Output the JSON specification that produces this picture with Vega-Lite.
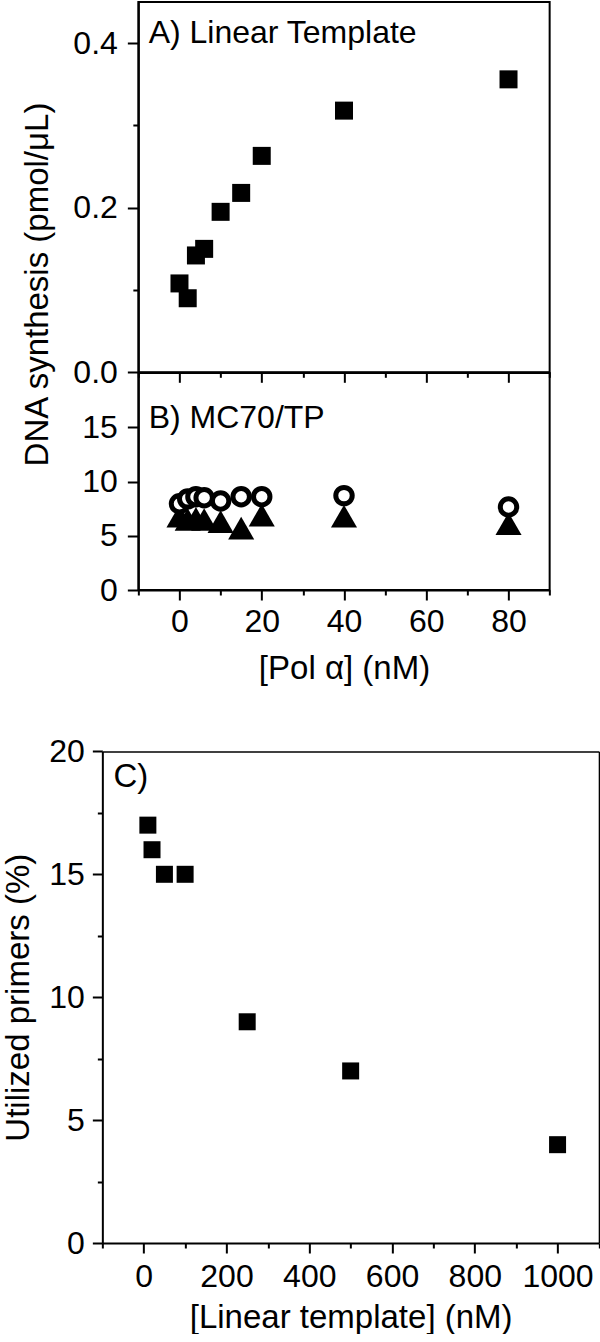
{
  "$schema": "https://vega.github.io/schema/vega-lite/v6.json",
  "padding": {"left": 2, "top": 1, "right": 0, "bottom": 0},
  "background": "white",
  "config": {
    "font": "Liberation Sans",
    "view": {"stroke": "black", "strokeWidth": 2},
    "axis": {"domainColor": "black", "domainWidth": 2, "tickColor": "black", "tickWidth": 2, "labelColor": "black", "titleColor": "black", "labelFont": "Liberation Sans", "titleFont": "Liberation Sans", "labelFontSize": 32, "titleFontSize": 33, "titleFontWeight": "normal", "grid": false, "labelOverlap": false, "labelFlush": false, "labelBound": false},
    "text": {"font": "Liberation Sans", "color": "black"}
  },
  "datasets": {
    "linear": [
      {"pol": 0, "dna": 0.108}, {"pol": 2, "dna": 0.090}, {"pol": 4, "dna": 0.142}, {"pol": 6, "dna": 0.150},
      {"pol": 10, "dna": 0.195}, {"pol": 15, "dna": 0.218}, {"pol": 20, "dna": 0.263}, {"pol": 40, "dna": 0.318}, {"pol": 80, "dna": 0.356}
    ],
    "mc70": [
      {"pol": 0, "series": "filled", "dna": 6.8}, {"pol": 2, "series": "filled", "dna": 6.5}, {"pol": 4, "series": "filled", "dna": 6.6},
      {"pol": 6, "series": "filled", "dna": 6.5}, {"pol": 10, "series": "filled", "dna": 6.3}, {"pol": 15, "series": "filled", "dna": 5.7},
      {"pol": 20, "series": "filled", "dna": 6.9}, {"pol": 40, "series": "filled", "dna": 6.8}, {"pol": 80, "series": "filled", "dna": 6.1},
      {"pol": 0, "series": "open", "dna": 7.95}, {"pol": 2, "series": "open", "dna": 8.4}, {"pol": 4, "series": "open", "dna": 8.6},
      {"pol": 6, "series": "open", "dna": 8.5}, {"pol": 10, "series": "open", "dna": 8.2}, {"pol": 15, "series": "open", "dna": 8.6},
      {"pol": 20, "series": "open", "dna": 8.6}, {"pol": 40, "series": "open", "dna": 8.7}, {"pol": 80, "series": "open", "dna": 7.65}
    ],
    "primers": [
      {"template": 10, "utilized": 17}, {"template": 20, "utilized": 16}, {"template": 50, "utilized": 15}, {"template": 100, "utilized": 15},
      {"template": 250, "utilized": 9}, {"template": 500, "utilized": 7}, {"template": 1000, "utilized": 4}
    ]
  },
  "vconcat": [
    {
      "width": 411.3,
      "height": 370.3,
      "layer": [
        {"data": {"name": "linear"},
         "mark": {"type": "square", "size": 324, "color": "black", "filled": true, "opacity": 1},
         "encoding": {
           "x": {"field": "pol", "type": "quantitative", "scale": {"domain": [-10, 90], "nice": false, "zero": false},
             "axis": {"values": [-10, 0, 10, 20, 30, 40, 50, 60, 70, 80, 90], "labels": false, "title": null,
               "tickSize": {"condition": {"test": "datum.value % 20 === 0", "value": 10}, "value": 5}}},
           "y": {"field": "dna", "type": "quantitative", "scale": {"domain": [0, 0.45], "nice": false, "zero": false},
             "axis": {"values": [0, 0.1, 0.2, 0.3, 0.4],
               "labelExpr": "round(datum.value*10) % 2 === 0 ? format(datum.value, '.1f') : ''",
               "tickSize": {"condition": {"test": "round(datum.value*10) % 2 === 0", "value": 11}, "value": 5.5},
               "labelPadding": 10,
               "title": "DNA synthesis (pmol/μL)", "titleBaseline": "alphabetic", "titleX": -91, "titleY": 282}}
         }},
        {"data": {"values": [{}]},
         "mark": {"type": "text", "text": "A) Linear Template", "align": "left", "baseline": "alphabetic", "fontSize": 32},
         "encoding": {"x": {"datum": -7.5, "type": "quantitative"}, "y": {"datum": 0.4, "type": "quantitative"}}}
      ]
    },
    {
      "width": 411.3,
      "height": 217,
      "layer": [
        {"data": {"name": "mc70"},
         "transform": [{"filter": "datum.series === 'filled'"}],
         "mark": {"type": "point", "shape": "triangle-up", "size": 680, "filled": true, "color": "black", "opacity": 1},
         "encoding": {
           "x": {"field": "pol", "type": "quantitative", "scale": {"domain": [-10, 90], "nice": false, "zero": false},
             "axis": {"values": [-10, 0, 10, 20, 30, 40, 50, 60, 70, 80, 90], "format": "d",
               "labelExpr": "datum.value % 20 === 0 ? datum.label : ''",
               "tickSize": {"condition": {"test": "datum.value % 20 === 0", "value": 10}, "value": 5},
               "labelPadding": 6,
               "title": "[Pol α] (nM)", "titleBaseline": "alphabetic", "titleY": 88}},
           "y": {"field": "dna", "type": "quantitative", "scale": {"domain": [0, 20], "nice": false, "zero": false},
             "axis": {"values": [0, 2.5, 5, 7.5, 10, 12.5, 15, 17.5], "format": "d",
               "labelExpr": "datum.value % 5 === 0 ? datum.label : ''",
               "tickSize": {"condition": {"test": "datum.value % 5 === 0", "value": 11}, "value": 5.5},
               "labelPadding": 10, "title": null}}
         }},
        {"data": {"name": "mc70"},
         "transform": [{"filter": "datum.series === 'open'"}],
         "mark": {"type": "point", "shape": "circle", "size": 270, "filled": false, "fill": "white", "fillOpacity": 1, "stroke": "black", "strokeWidth": 5, "opacity": 1},
         "encoding": {
           "x": {"field": "pol", "type": "quantitative"},
           "y": {"field": "dna", "type": "quantitative"}
         }},
        {"data": {"values": [{}]},
         "mark": {"type": "text", "text": "B) MC70/TP", "align": "left", "baseline": "alphabetic", "fontSize": 32},
         "encoding": {"x": {"datum": -7.5, "type": "quantitative"}, "y": {"datum": 14.9, "type": "quantitative"}}}
      ]
    },
    {
      "width": 483.3,
      "height": 653,
      "view": {"stroke": null},
      "layer": [
        {"data": {"name": "primers"},
         "mark": {"type": "square", "size": 289, "color": "black", "filled": true, "opacity": 1},
         "encoding": {
           "x": {"field": "template", "type": "quantitative", "scale": {"domain": [-100, 1100], "range": [0, 496.6], "nice": false, "zero": false},
             "axis": {"orient": "bottom", "values": [-100, 0, 100, 200, 300, 400, 500, 600, 700, 800, 900, 1000, 1100], "format": "d",
               "labelExpr": "datum.value % 200 === 0 ? datum.label : ''",
               "tickSize": {"condition": {"test": "datum.value % 200 === 0", "value": 10}, "value": 5},
               "labelPadding": 8,
               "title": "[Linear template] (nM)", "titleBaseline": "alphabetic", "titleY": 84}},
           "y": {"field": "utilized", "type": "quantitative", "scale": {"domain": [0, 20], "range": [653, 161.4], "nice": false, "zero": false},
             "axis": {"orient": "left", "values": [0, 2.5, 5, 7.5, 10, 12.5, 15, 17.5, 20], "format": "d",
               "labelExpr": "datum.value % 5 === 0 ? datum.label : ''",
               "tickSize": {"condition": {"test": "datum.value % 5 === 0", "value": 10}, "value": 5},
               "labelPadding": 8,
               "title": "Utilized primers (%)", "titleBaseline": "alphabetic", "titleX": -74, "titleY": 407.2}}
         }},
        {"data": {"values": [{}]},
         "mark": {"type": "text", "text": "C)", "align": "left", "baseline": "alphabetic", "fontSize": 33},
         "encoding": {
           "x": {"datum": -73, "type": "quantitative", "axis": {"orient": "top", "offset": -161.4, "ticks": false, "labels": false, "title": null, "domainWidth": 1.5}},
           "y": {"datum": 18.56, "type": "quantitative", "axis": {"orient": "right", "offset": 13.3, "ticks": false, "labels": false, "title": null, "domainWidth": 1.5}}
         }}
      ],
      "resolve": {"axis": {"x": "independent", "y": "independent"}}
    }
  ],
  "spacing": 0,
  "bounds": "flush",
  "center": true
}
